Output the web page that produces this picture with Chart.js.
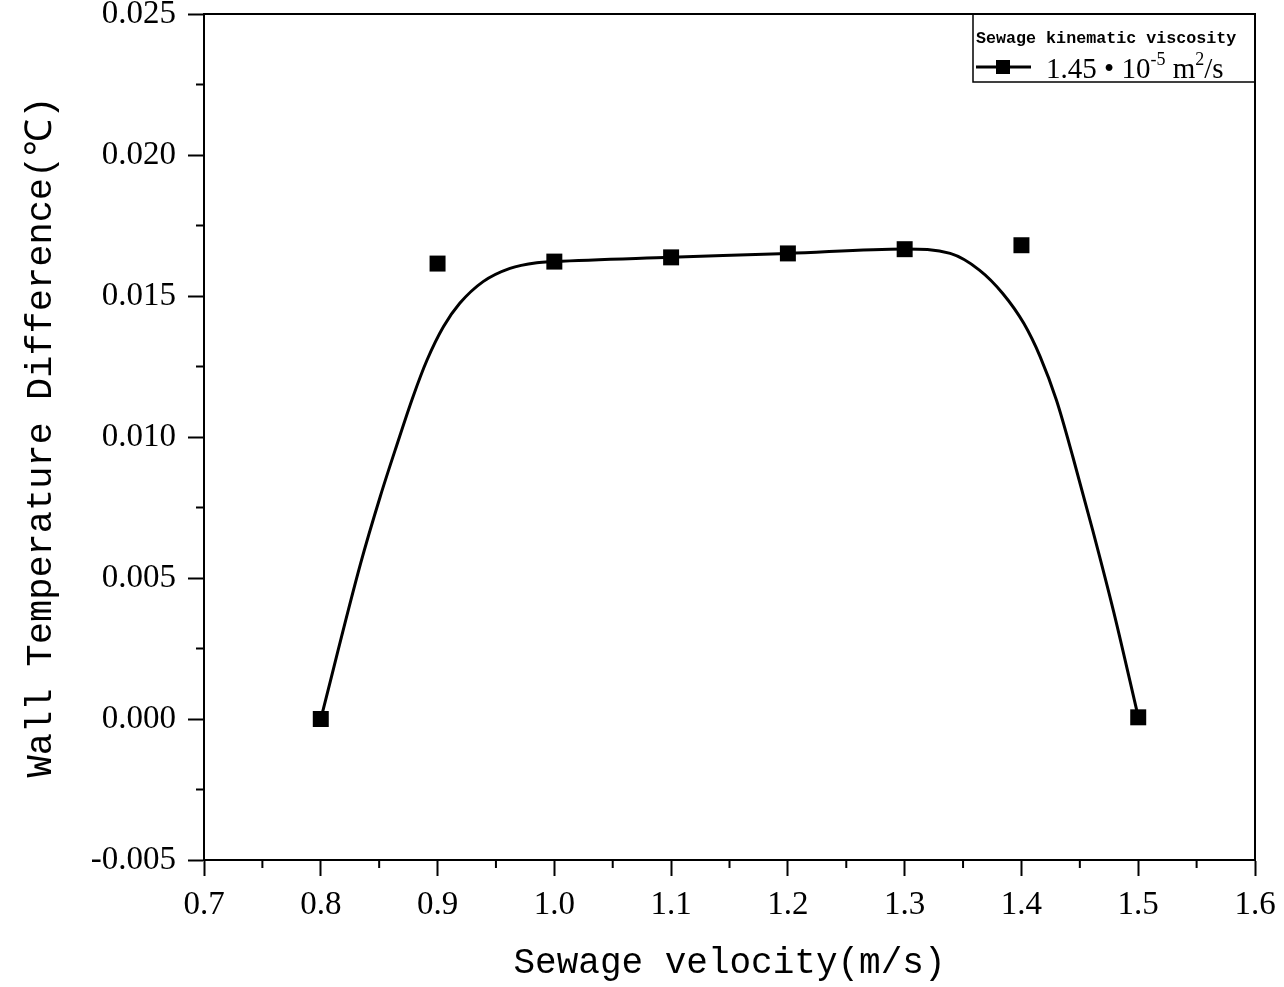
<!DOCTYPE html>
<html lang="en">
<head>
  <meta charset="UTF-8" />
  <title>Wall Temperature Difference vs Sewage Velocity</title>
  <script src="https://cdn.jsdelivr.net/npm/chart.js"></script>
  <style>
    html, body {
      margin: 0;
      padding: 0;
      background-color: #ffffff;
    }
    #chart-container {
      position: relative;
      width: 1284px;
      height: 987px;
    }
  </style>
</head>
<body>
  <div id="chart-container">
    <canvas id="wallChart"></canvas>
  </div>

  <script>
    // measured points
    const velocity = [0.8, 0.9, 1.0, 1.1, 1.2, 1.3, 1.4, 1.5];
    const tempDiff = [0.0000, 0.01615, 0.01622, 0.01637, 0.01651, 0.01666, 0.01680, 0.00006];

    // fitted curve
    const fitX = [0.8, 0.834, 0.851, 0.865, 0.879, 0.891, 0.905, 0.919, 0.939, 0.962, 0.985, 1.0,
                  1.1, 1.2, 1.3, 1.339, 1.364, 1.384, 1.402, 1.416, 1.43, 1.444, 1.461, 1.479, 1.5];
    const fitY = [0.0, 0.0055, 0.0079, 0.0097, 0.01143, 0.01273, 0.01391, 0.01474, 0.01551,
                  0.01598, 0.01618, 0.01622, 0.01637, 0.01651, 0.01667, 0.01651, 0.01592,
                  0.01509, 0.01403, 0.01285, 0.0113, 0.0093, 0.0067, 0.0038, 0.00008];

    const xMinorTicks = [0.75, 0.85, 0.95, 1.05, 1.15, 1.25, 1.35, 1.45, 1.55];
    const yMinorTicks = [-0.0025, 0.0025, 0.0075, 0.0125, 0.0175, 0.0225];

    const legendTitle = 'Sewage kinematic viscosity';

    Chart.defaults.font.family = '"Liberation Serif", "DejaVu Serif", serif';
    Chart.defaults.color = '#000000';

    // frame, minor ticks and the boxed legend
    Chart.register({
      id: 'frameAndLegend',
      afterDraw(chart) {
        const ctx = chart.ctx;
        const a = chart.chartArea;
        const xs = chart.scales.x;
        const ys = chart.scales.y;
        ctx.save();
        ctx.strokeStyle = '#000';
        ctx.lineWidth = 2;

        ctx.beginPath();
        xMinorTicks.forEach(v => {
          const px = xs.getPixelForValue(v);
          ctx.moveTo(px, a.bottom);
          ctx.lineTo(px, a.bottom + 8);
        });
        yMinorTicks.forEach(v => {
          const py = ys.getPixelForValue(v);
          ctx.moveTo(a.left, py);
          ctx.lineTo(a.left - 8, py);
        });
        ctx.stroke();

        // legend box
        const bx = a.right - 282, by = a.top, bw = 282, bh = 68;
        ctx.fillStyle = '#fff';
        ctx.fillRect(bx, by, bw, bh);
        ctx.lineWidth = 1.5;
        ctx.strokeRect(bx, by, bw, bh);
        ctx.lineWidth = 2;
        ctx.strokeRect(a.left, a.top, a.right - a.left, a.bottom - a.top);

        ctx.fillStyle = '#000';
        ctx.textBaseline = 'alphabetic';
        ctx.textAlign = 'left';
        ctx.font = 'bold 16.7px "Liberation Mono", monospace';
        ctx.fillText(legendTitle, bx + 3, by + 29);

        const ly = by + 53;
        ctx.lineWidth = 3;
        ctx.beginPath();
        ctx.moveTo(bx + 3, ly);
        ctx.lineTo(bx + 58, ly);
        ctx.stroke();
        ctx.fillRect(bx + 23, ly - 7, 14, 14);

        let tx = bx + 73;
        const base = ly + 11;
        const parts = [
          ['1.45 • 10', 29, 0],
          ['-5', 18, -13],
          [' m', 29, 0],
          ['2', 18, -13],
          ['/s', 29, 0]
        ];
        parts.forEach(([t, size, dy]) => {
          ctx.font = size + 'px "Liberation Serif", serif';
          ctx.fillText(t, tx, base + dy);
          tx += ctx.measureText(t).width;
        });
        ctx.restore();
      }
    });

    const ctx = document.getElementById('wallChart').getContext('2d');

    const config = {
      type: 'scatter',
      data: {
        datasets: [
          {
            label: 'fit',
            data: fitX.map((x, i) => ({ x: x, y: fitY[i] })),
            showLine: true,
            borderColor: '#000',
            borderWidth: 3,
            pointRadius: 0,
            cubicInterpolationMode: 'monotone',
            fill: false
          },
          {
            label: '1.45·10^-5 m2/s',
            data: velocity.map((x, i) => ({ x: x, y: tempDiff[i] })),
            showLine: false,
            pointStyle: 'rect',
            pointRadius: 11.3,
            backgroundColor: '#000',
            borderColor: '#000',
            borderWidth: 0
          }
        ]
      },
      options: {
        responsive: true,
        maintainAspectRatio: false,
        animation: false,
        layout: {
          padding: { top: 14, right: 29, left: 0, bottom: 0 }
        },
        plugins: {
          legend: { display: false },
          tooltip: { enabled: false }
        },
        scales: {
          x: {
            type: 'linear',
            min: 0.7,
            max: 1.6,
            afterFit: (scale) => {
              scale.height = 127;
              scale.paddingLeft = 0;
              scale.paddingRight = 0;
            },
            ticks: {
              stepSize: 0.1,
              padding: 10,
              color: '#000',
              font: { size: 33 },
              callback: (v) => Number(v).toFixed(1)
            },
            grid: {
              drawOnChartArea: false,
              drawTicks: true,
              tickLength: 16,
              tickWidth: 2,
              tickColor: '#000'
            },
            border: { display: true, color: '#000', width: 2 },
            title: {
              display: true,
              text: 'Sewage velocity(m/s)',
              color: '#000',
              padding: { top: 0, bottom: 2 },
              font: { family: '"Liberation Mono", monospace', size: 36 }
            }
          },
          y: {
            min: -0.005,
            max: 0.025,
            afterFit: (scale) => {
              scale.width = 204;
              scale.paddingTop = 0;
              scale.paddingBottom = 0;
            },
            ticks: {
              stepSize: 0.005,
              padding: 12,
              color: '#000',
              font: { size: 33 },
              callback: (v) => Number(v).toFixed(3)
            },
            grid: {
              drawOnChartArea: false,
              drawTicks: true,
              tickLength: 16,
              tickWidth: 2,
              tickColor: '#000'
            },
            border: { display: true, color: '#000', width: 2 },
            title: {
              display: true,
              text: 'Wall Temperature Difference(℃)',
              color: '#000',
              padding: { top: 19, bottom: 0 },
              font: { family: '"Liberation Mono", monospace', size: 37 }
            }
          }
        }
      }
    };

    new Chart(ctx, config);
  </script>
</body>
</html>
